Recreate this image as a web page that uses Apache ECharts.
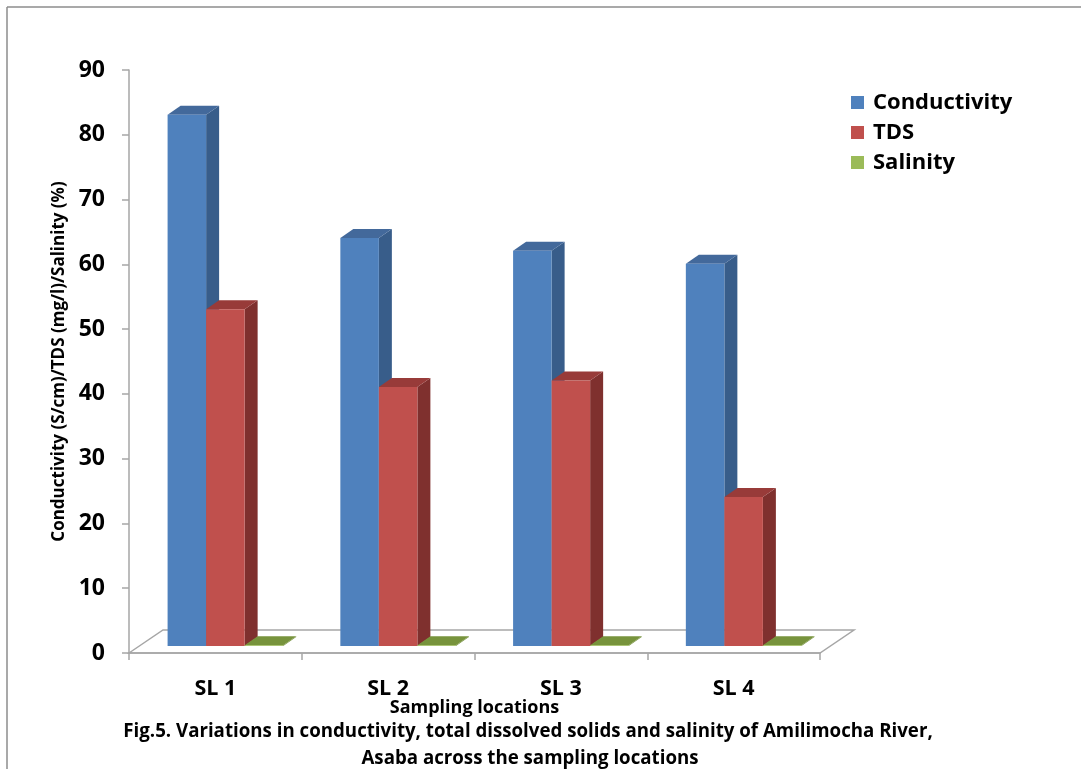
<!DOCTYPE html>
<html>
<head>
<meta charset="utf-8">
<script src="https://cdn.jsdelivr.net/npm/echarts@6/dist/echarts.min.js"></script>
<style>
  html, body { margin: 0; padding: 0; background: #ffffff; }
  #chart { width: 1081px; height: 769px; }
</style>
</head>
<body>
<div id="chart"></div>
<script>
// Sampling locations along the river
const locations = ['SL 1', 'SL 2', 'SL 3', 'SL 4'];
// Conductivity (S/cm)
const conductivity = [82, 63, 61, 59];
// Total dissolved solids (mg/l)
const tds = [52, 40, 41, 23];
// Salinity (%)
const salinity = [0.1, 0.1, 0.1, 0.1];
// Value axis ticks
const yTicks = { min: 0, max: 90, step: 10 };

const FONT = '"Open Sans", Lato, sans-serif';

// Pseudo-3D geometry (pixels)
const BAR_FRAC = 0.223;     // bar width as share of a category band
const FRONT_DX = 10, FRONT_DY = -7;   // bar front plane sits inside the floor
const SIDE_DX = 13, SIDE_DY = -9;     // bar depth
const FLOOR_DX = 34, FLOOR_DY = -23;  // floor depth

function barRenderer(slot, shades) {
  return function (params, api) {
    const ci = api.value(0);
    const v = api.value(1);
    const band = api.size([1, 0])[0];
    const bw = band * BAR_FRAC;
    const base = api.coord([ci, 0]);
    const top = api.coord([ci, v]);
    const x0 = base[0] + (slot - 1.5) * bw + FRONT_DX;
    const x1 = x0 + bw;
    const yb = base[1] + FRONT_DY;
    const yt = top[1] + FRONT_DY;
    return {
      type: 'group',
      children: [
        {
          type: 'polygon',
          shape: { points: [[x1, yt], [x1 + SIDE_DX, yt + SIDE_DY], [x1 + SIDE_DX, yb + SIDE_DY], [x1, yb]] },
          style: { fill: shades.side }
        },
        {
          type: 'polygon',
          shape: { points: [[x0, yt], [x0 + SIDE_DX, yt + SIDE_DY], [x1 + SIDE_DX, yt + SIDE_DY], [x1, yt]] },
          style: { fill: shades.top }
        },
        {
          type: 'rect',
          shape: { x: x0, y: yt, width: bw, height: Math.max(yb - yt, 0) },
          style: { fill: shades.front }
        }
      ]
    };
  };
}

// Floor of the plot area, built from the category axis extent
function floorRenderer(params, api) {
  const band = api.size([1, 0])[0];
  const first = api.coord([0, 0]);
  const last = api.coord([locations.length - 1, 0]);
  const xl = first[0] - band / 2;
  const xr = last[0] + band / 2;
  const y = first[1];
  return {
    type: 'polygon',
    shape: { points: [[xl, y], [xl + FLOOR_DX, y + FLOOR_DY], [xr + FLOOR_DX, y + FLOOR_DY], [xr, y]] },
    style: { fill: '#ffffff', stroke: '#a6a6a6', lineWidth: 1.5 }
  };
}

const seriesDefs = [
  { name: 'Conductivity', values: conductivity, shades: { front: '#4f81bd', side: '#385d8a', top: '#43699b' } },
  { name: 'TDS', values: tds, shades: { front: '#c0504d', side: '#7f302e', top: '#983b39' } },
  { name: 'Salinity', values: salinity, shades: { front: '#9bbb59', side: '#6d8a33', top: '#77933c' } }
];

const chart = echarts.init(document.getElementById('chart'), null, { renderer: 'canvas' });

const series = [{
  type: 'custom',
  name: 'floor',
  silent: true,
  z: 1,
  renderItem: floorRenderer,
  data: [[0, 0]]
}].concat(seriesDefs.map((d, i) => ({
  type: 'custom',
  name: d.name,
  z: 2 + i,
  itemStyle: { color: d.shades.front },
  renderItem: barRenderer(i, d.shades),
  data: locations.map((c, k) => [k, d.values[k]])
})));

chart.setOption({
  animation: false,
  backgroundColor: '#ffffff',
  textStyle: { fontFamily: FONT },
  grid: { left: 129, right: 261, top: 70, bottom: 116 },
  legend: {
    data: seriesDefs.map(d => d.name),
    orient: 'vertical',
    left: 846,
    top: 86,
    icon: 'rect',
    itemWidth: 13,
    itemHeight: 13,
    itemGap: 7,
    textStyle: { fontFamily: FONT, fontWeight: 'bold', fontSize: 22, color: '#000', padding: [0, 0, 0, 4], lineHeight: 23 }
  },
  xAxis: {
    type: 'category',
    data: locations,
    name: 'Sampling locations',
    nameLocation: 'middle',
    nameGap: 46,
    nameMoveOverlap: false,
    nameTextStyle: { fontFamily: FONT, fontWeight: 'bold', fontSize: 18, color: '#000' },
    axisLine: { show: true, lineStyle: { color: '#a6a6a6', width: 1.5 } },
    axisTick: { show: true, length: 7, lineStyle: { color: '#a6a6a6', width: 1.5 } },
    axisLabel: { margin: 25, fontFamily: FONT, fontWeight: 'bold', fontSize: 21.5, color: '#000' },
    z: 10
  },
  yAxis: {
    type: 'value',
    min: yTicks.min,
    max: yTicks.max,
    interval: yTicks.step,
    name: 'Conductivity (S/cm)/TDS (mg/l)/Salinity (%)',
    nameLocation: 'middle',
    nameGap: 59,
    nameRotate: 90,
    nameTextStyle: { fontFamily: FONT, fontWeight: 'bold', fontSize: 17, color: '#000' },
    axisLine: { show: true, lineStyle: { color: '#a6a6a6', width: 1.5 } },
    axisTick: { show: true, length: 7, lineStyle: { color: '#a6a6a6', width: 1.5 } },
    axisLabel: { margin: 24, fontFamily: FONT, fontWeight: 'bold', fontSize: 23, color: '#000' },
    splitLine: { show: false }
  },
  graphic: [
    { type: 'line', shape: { x1: 7, y1: 7, x2: 1081, y2: 7 }, style: { stroke: '#8c8c8c', lineWidth: 1.5 } },
    { type: 'line', shape: { x1: 7, y1: 7, x2: 7, y2: 769 }, style: { stroke: '#8c8c8c', lineWidth: 1.5 } },
    {
      type: 'text', x: 528, y: 732,
      style: { text: 'Fig.5. Variations in conductivity, total dissolved solids and salinity of Amilimocha River,', align: 'center', verticalAlign: 'middle', fontFamily: FONT, fontWeight: 'bold', fontSize: 18.7, fill: '#000' }
    },
    {
      type: 'text', x: 530, y: 759,
      style: { text: 'Asaba across the sampling locations', align: 'center', verticalAlign: 'middle', fontFamily: FONT, fontWeight: 'bold', fontSize: 18.7, fill: '#000' }
    }
  ],
  series: series
});
</script>
</body>
</html>
